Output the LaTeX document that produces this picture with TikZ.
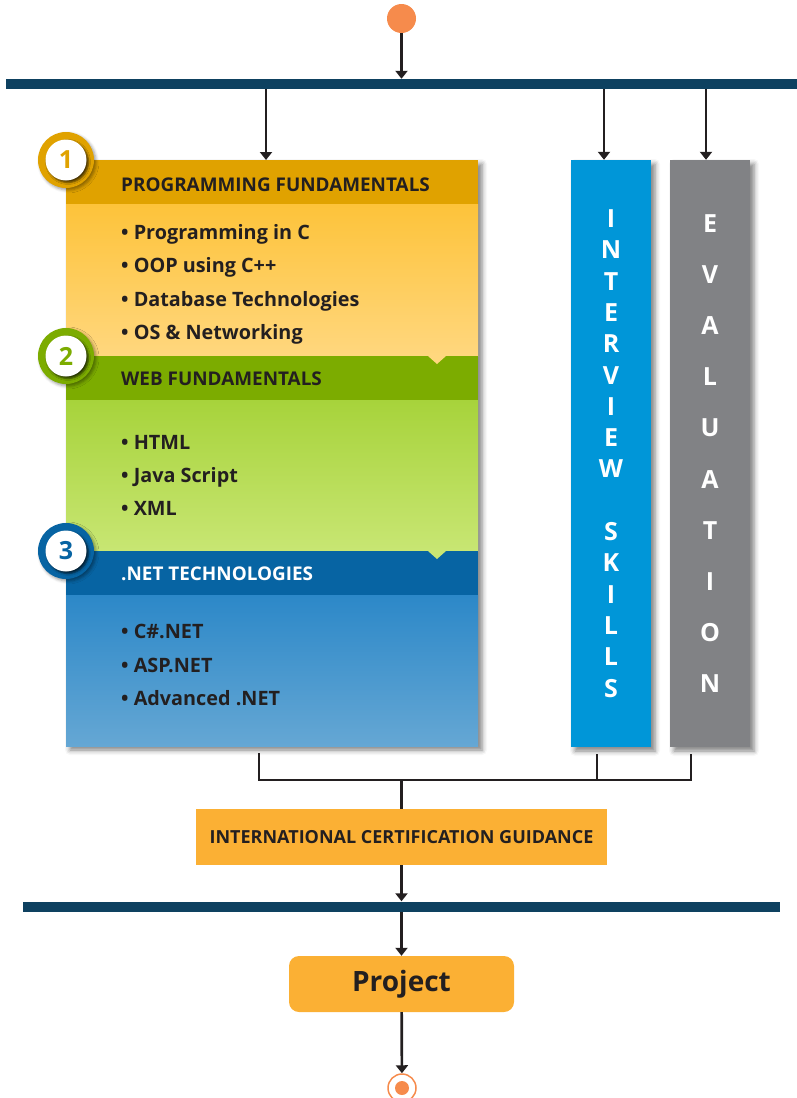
\documentclass[tikz,border=0pt]{standalone}
\usepackage{fontspec}
\setmainfont{Open Sans}
\usetikzlibrary{positioning,arrows.meta,shadows.blur}

\definecolor{ink}{HTML}{231F20}
\definecolor{navy}{HTML}{0E4160}
\definecolor{dotorange}{HTML}{F68B4C}
\definecolor{goldhead}{HTML}{E0A200}
\definecolor{goldtop}{HTML}{FDC33A}
\definecolor{goldbot}{HTML}{FFD77E}
\definecolor{greenhead}{HTML}{7CAC00}
\definecolor{greentop}{HTML}{A7D33B}
\definecolor{greenbot}{HTML}{C8E673}
\definecolor{bluehead}{HTML}{0764A3}
\definecolor{bluetop}{HTML}{2C88C8}
\definecolor{bluebot}{HTML}{65A7D4}
\definecolor{skyblue}{HTML}{0096D8}
\definecolor{slate}{HTML}{818285}
\definecolor{amber}{HTML}{FBB034}

\tikzset{
  bar/.style = {fill=navy, inner sep=0pt, minimum height=10pt},
  flow/.style = {line width=2.7pt, draw=ink, -{Triangle[length=8pt,width=12pt]}},
  link/.style = {line width=2.7pt, draw=ink},
  softshadow/.style = {blur shadow={shadow xshift=4pt, shadow yshift=-4pt, shadow opacity=50, shadow blur radius=5pt}},
  block/.style = {inner sep=0pt, outer sep=0pt, minimum width=412pt},
  head/.style = {block, fill=#1, minimum height=44pt},
  body/.style = {block, minimum height=#1},
  headtext/.style = {anchor=west, inner sep=0pt, text=#1, font=\bfseries\fontsize{18.9}{20}\selectfont},
  items/.style = {anchor=west, inner sep=0pt, align=left, text=ink, font=\bfseries\fontsize{19.8}{33.3}\selectfont},
  badge/.style = {circle, fill=#1, minimum size=56pt, inner sep=0pt, blur shadow={shadow xshift=2pt, shadow yshift=-2pt, shadow opacity=40, shadow blur radius=3pt}},
  badgenum/.style = {circle, fill=white, minimum size=41pt, inner sep=0pt, text=#1, font=\bfseries\fontsize{25}{25}\selectfont, blur shadow={shadow xshift=2pt, shadow yshift=-2pt, shadow opacity=70, shadow blur radius=2pt}},
  column/.style = {fill=#1, minimum width=80pt, minimum height=587pt, inner sep=0pt, align=center, text=white, softshadow},
  amberbox/.style = {fill=amber, inner sep=0pt, text=ink, font=\bfseries}
}

\begin{document}
\begin{tikzpicture}[x=1pt, y=-1pt]
\useasboundingbox (0,0) rectangle (796,1098);

\node[circle, fill=dotorange, minimum size=29pt, inner sep=0pt] (start) at (401.5,18.5) {};
\node[bar, minimum width=791pt] (bar1) at (401.5,84) {};
\draw[flow] (start) -- (bar1);

% course panel
\node[block, fill=white, minimum height=586pt, softshadow] (panel) at (272,453) {};
\node[head=goldhead] (hdr1) at (272,182) {};
\node[body=152pt, top color=goldtop, bottom color=goldbot] (body1) at (272,280) {};
\node[head=greenhead] (hdr2) at (272,378) {};
\node[body=151pt, top color=greentop, bottom color=greenbot] (body2) at (272,475.5) {};
\node[head=bluehead] (hdr3) at (272,573) {};
\node[body=151pt, top color=bluetop, bottom color=bluebot] (body3) at (272,670.5) {};

\fill[goldbot] ([xshift=-50pt]hdr2.north east) -- ++(18,0) -- ++(-9,8) -- cycle;
\fill[greenbot] ([xshift=-50pt]hdr3.north east) -- ++(18,0) -- ++(-9,8) -- cycle;

\node[headtext=ink] (t1) at ([shift={(55,2.5)}]hdr1.west) {PROGRAMMING FUNDAMENTALS};
\node[headtext=ink] (t2) at ([shift={(55,1)}]hdr2.west) {WEB FUNDAMENTALS};
\node[headtext=white] (t3) at ([shift={(55,1)}]hdr3.west) {.NET TECHNOLOGIES};

\node[items] (list1) at ([shift={(55,4.5)}]body1.west) {• Programming in C\\• OOP using C++\\• Database Technologies\\• OS \& Networking};
\node[items] (list2) at ([shift={(55,0)}]body2.west) {• HTML\\• Java Script\\• XML};
\node[items] (list3) at ([shift={(55,-5.5)}]body3.west) {• C\#.NET\\• ASP.NET\\• Advanced .NET};

\node[badge=goldhead] (b1) at (hdr1.north west) {};
\node[badgenum=goldhead] at (b1) {1};
\node[badge=greenhead] (b2) at (hdr2.north west) {};
\node[badgenum=greenhead] at (b2) {2};
\node[badge=bluehead] (b3) at (hdr3.north west) {};
\node[badgenum=bluehead] at (b3) {3};

% side columns
\node[column=skyblue, font=\bfseries\fontsize{25}{31.3}\selectfont] (interview) at (611,453.5)
  {I\\N\\T\\E\\R\\V\\I\\E\\W\\[31.3pt]S\\K\\I\\L\\L\\S};
\node[column=slate, font=\bfseries\fontsize{25}{51.2}\selectfont] (evaluation) at (710,453.5)
  {E\\V\\A\\L\\U\\A\\T\\I\\O\\N};

\coordinate (in1) at ([xshift=-6pt]hdr1.north);
\coordinate (in2) at ([xshift=-7pt]interview.north);
\coordinate (in3) at ([xshift=-4pt]evaluation.north);
\draw[flow] (bar1.south -| in1) -- (in1);
\draw[flow] (bar1.south -| in2) -- (in2);
\draw[flow] (bar1.south -| in3) -- (in3);

% merge into certification
\coordinate (merge) at (401.5,780);
\coordinate (out1) at ([shift={(-13,7)}]body3.south);
\coordinate (out2) at ([shift={(-14,7)}]interview.south);
\coordinate (out3) at ([shift={(-19,7)}]evaluation.south);
\draw[link] (out1) |- (merge) -| (out3);
\draw[link] (out2) -- (out2 |- merge);

\node[amberbox, minimum width=411pt, minimum height=56pt, font=\bfseries\fontsize{18}{20}\selectfont] (cert) at (401.5,837) {INTERNATIONAL CERTIFICATION GUIDANCE};
\draw[link] (merge) -- (cert);

\node[bar, minimum width=757pt] (bar2) at (401.5,906.5) {};
\draw[flow] (cert) -- (bar2);

\node[amberbox, minimum width=225pt, minimum height=56pt, rounded corners=10pt, font=\bfseries\fontsize{28}{30}\selectfont] (project) at (401.5,984) {Project};
\draw[flow] (bar2) -- (project);

\node[circle, draw=dotorange, line width=1.5pt, minimum size=28pt, inner sep=0pt] (finish) at (402,1088) {};
\fill[dotorange] (finish) circle (7pt);
\draw[flow] (project) -- (finish);
\end{tikzpicture}
\end{document}
